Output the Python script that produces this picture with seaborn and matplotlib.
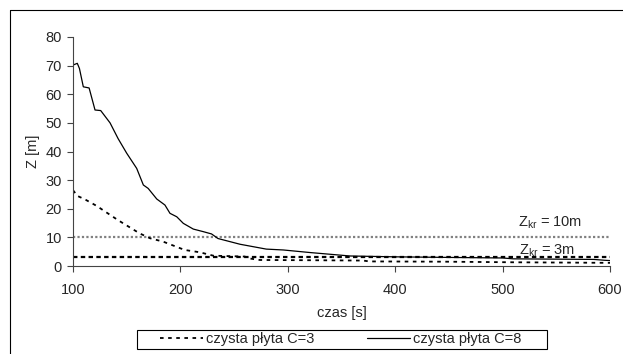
import matplotlib
matplotlib.use("Agg")
import matplotlib.pyplot as plt
import seaborn as sns
import pandas as pd
from matplotlib.lines import Line2D
from matplotlib.patches import Rectangle

# data
t_c8 = [100, 104, 106, 109.6, 115, 120.5, 125.8, 134.5, 142, 150, 159.3, 165.5, 170, 178,
        185.6, 190.3, 196.6, 202.7, 212, 221.3, 229, 235, 255.5, 280, 295.8, 320.7, 358,
        400, 450, 500, 510, 585, 595, 600]
z_c8 = [70.2, 70.8, 69.0, 62.6, 62.2, 54.5, 54.3, 50.0, 44.5, 39.4, 34.1, 28.3, 27.1, 23.4,
        21.3, 18.4, 17.2, 14.9, 12.9, 12.0, 11.2, 9.6, 7.6, 5.9, 5.6, 4.7, 3.5,
        3.2, 3.0, 2.8, 2.5, 2.3, 2.0, 1.9]
t_c3 = [100, 104, 111, 122, 142, 162, 171.7, 184, 204, 218, 230.6, 260, 263, 274, 330, 370,
        376, 450, 510, 600]
z_c3 = [26.5, 24.5, 23.3, 21.0, 16.0, 11.4, 9.7, 8.5, 5.6, 4.8, 3.6, 3.3, 2.7, 2.1, 2.0, 1.9,
        1.6, 1.5, 1.3, 1.1]
z_kr = [10, 3]
kr_labels = ["Z$_{\\mathrm{kr}}$ = 10m", "Z$_{\\mathrm{kr}}$ = 3m"]
series_names = ["czysta płyta C=3", "czysta płyta C=8"]
x_ticks = [100, 200, 300, 400, 500, 600]
y_ticks = [0, 10, 20, 30, 40, 50, 60, 70, 80]

sns.set_style("ticks")
plt.rcParams['font.family'] = ['Liberation Sans', 'DejaVu Sans']
plt.rcParams['mathtext.fontset'] = 'custom'
plt.rcParams['mathtext.rm'] = 'Liberation Sans'
plt.rcParams['mathtext.it'] = 'Liberation Sans'

FS = 10.5
fig = plt.figure(figsize=(6.23, 3.54), dpi=100)
ax = fig.add_axes([73/623, 1-266/354, (610-73)/623, (266-37)/354])

df3 = pd.DataFrame({"t": t_c3, "z": z_c3})
df8 = pd.DataFrame({"t": t_c8, "z": z_c8})

ax.axhline(z_kr[0], color="#808080", lw=1.6, ls=(0, (1, 1)), zorder=1)
ax.axhline(z_kr[1], color="black", lw=1.6, ls=(0, (2, 1.5)), zorder=1)

sns.lineplot(data=df3, x="t", y="z", ax=ax, color="black", lw=1.3,
             linestyle=(0, (2, 2.5)), label=series_names[0])
sns.lineplot(data=df8, x="t", y="z", ax=ax, color="black", lw=0.9,
             linestyle="-", label=series_names[1])

ax.text(514.6, 13.7, kr_labels[0], fontsize=FS, va="baseline", ha="left")
ax.text(515, 3.85, kr_labels[1], fontsize=FS, va="baseline", ha="left")

ax.set_xlim(100, 600)
ax.set_ylim(0, 80)
ax.set_xticks(x_ticks)
ax.set_yticks(y_ticks)
ax.tick_params(axis="x", length=4, width=0.8, pad=8, labelsize=FS, color="#444444")
ax.tick_params(axis="y", length=4, width=0.8, pad=4, labelsize=FS, color="#444444")
for s in ["top", "right"]:
    ax.spines[s].set_visible(False)
for s in ["left", "bottom"]:
    ax.spines[s].set_color("#444444")
    ax.spines[s].set_linewidth(0.8)

ax.set_xlabel("czas [s]", fontsize=FS, labelpad=7)
ax.set_ylabel("Z [m]", fontsize=FS, labelpad=4)

leg = ax.legend(loc="center", bbox_to_anchor=(341/623, 1-339.5/354),
                bbox_transform=fig.transFigure, ncol=2, frameon=False,
                fontsize=FS, borderpad=0, handlelength=2.95,
                handletextpad=0.2, columnspacing=3.6, borderaxespad=0)

# legend frame
fig.add_artist(Rectangle((137/623, 1-349/354), (547-137)/623, 19/354, fill=False,
                         edgecolor="black", lw=0.8, transform=fig.transFigure))

# outer chart border (partially visible)
fig.add_artist(Line2D([10/623, 1.0], [1-10/354, 1-10/354], color="black", lw=0.8,
                      transform=fig.transFigure))
fig.add_artist(Line2D([10/623, 10/623], [0, 1-10/354], color="black", lw=0.8,
                      transform=fig.transFigure))

fig.savefig("out.png", dpi=100, facecolor="white")
